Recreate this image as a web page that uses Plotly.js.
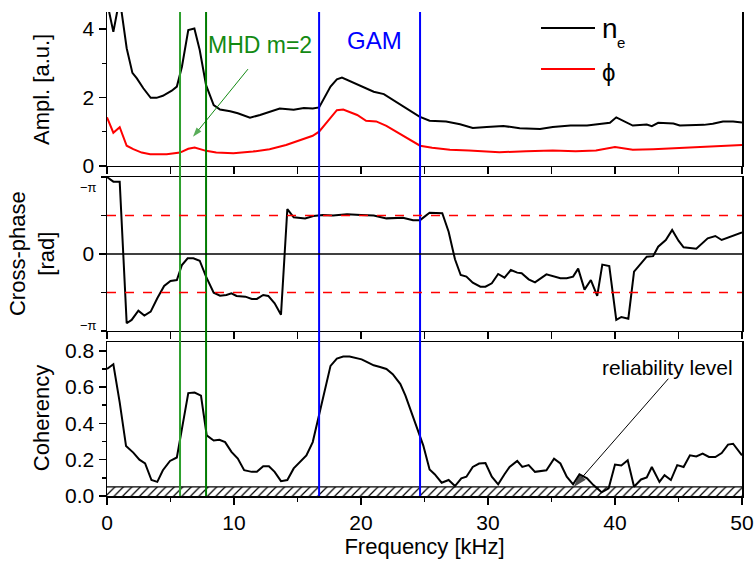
<!DOCTYPE html>
<html>
<head>
<meta charset="utf-8">
<script src="https://cdn.plot.ly/plotly-3.0.1.min.js"></script>
<style>
html,body{margin:0;padding:0;background:#fff;}
#chart{width:756px;height:562px;}
</style>
</head>
<body>
<div id="chart"></div>
<script>
// ---------- data ----------
// Top panel: amplitude spectra
const freqNe = [0,0.5,1.0,1.55,2.0,2.35,2.86,3.44,3.9,4.4,5.1,5.5,5.9,6.4,6.88,7.3,7.8,8.4,8.9,9.7,10.3,11.26,12.05,12.8,13.6,14.7,15.5,16.2,16.7,17.6,18.1,18.5,19.4,20.2,21.0,21.8,22.5,23.6,24.6,25.4,26.7,27.8,28.8,29.9,31.2,32.5,34.1,35.1,36.5,37.8,38.8,39.6,40.1,40.7,41.4,42.5,42.9,43.4,44.6,45.1,47.0,47.7,48.5,49.3,50];
const ampNe  = [4.8,3.92,4.9,3.44,2.72,2.56,2.27,1.99,1.99,2.05,2.2,2.32,2.9,3.97,4.02,3.39,2.36,1.78,1.65,1.6,1.54,1.41,1.49,1.59,1.68,1.64,1.69,1.68,1.71,2.32,2.53,2.58,2.43,2.29,2.17,2.1,1.93,1.68,1.44,1.32,1.30,1.22,1.11,1.14,1.17,1.10,1.08,1.14,1.18,1.18,1.22,1.26,1.42,1.32,1.18,1.21,1.16,1.26,1.24,1.18,1.20,1.23,1.30,1.30,1.27];
const freqPhi = [0,0.5,1.0,1.55,2.07,2.73,3.4,4.7,5.75,6.4,6.9,7.8,8.6,9.95,11.5,12.8,14.1,15.2,16.2,16.7,17.6,18.1,18.6,19.7,20.4,21.2,22.0,23.1,24.1,24.65,25.6,27.0,28.5,30.9,33.0,35.1,36.9,38.5,40.0,41.4,43.0,45.1,47.0,48.8,50];
const ampPhi  = [1.42,0.97,1.13,0.59,0.49,0.39,0.34,0.34,0.39,0.5,0.54,0.44,0.39,0.37,0.42,0.49,0.61,0.76,0.88,1.0,1.39,1.63,1.65,1.49,1.32,1.30,1.17,0.92,0.71,0.59,0.53,0.47,0.45,0.40,0.43,0.45,0.43,0.45,0.55,0.47,0.49,0.52,0.56,0.59,0.61];

// Middle panel: cross-phase (in units of pi)
const freqPhase = [0,0.5,1.0,1.55,1.94,2.47,2.94,3.44,3.96,4.5,5.0,5.5,5.9,6.35,6.8,7.3,7.8,8.4,8.9,9.4,9.8,10.2,10.9,11.4,11.8,12.3,12.7,13.2,13.7,14.2,14.7,15.6,16.25,17.0,17.8,18.9,20.0,21.0,22.0,23.3,24.1,24.65,25.4,25.96,26.4,26.9,27.4,27.85,28.3,28.8,29.4,29.8,30.3,30.8,31.3,31.8,32.3,32.65,33.2,33.7,34.6,35.7,36.2,36.7,37.1,37.6,38.1,38.6,39.0,39.55,40.1,40.5,41.05,41.5,42.05,42.5,43.0,43.4,44.0,44.5,45.0,45.4,46.4,47.3,47.9,48.4,50];
const crossPhasePi = [1.0,0.94,0.94,-0.90,-0.857,-0.736,-0.80,-0.749,-0.576,-0.416,-0.35,-0.338,-0.143,-0.056,-0.056,-0.087,-0.294,-0.502,-0.541,-0.532,-0.51,-0.545,-0.554,-0.584,-0.584,-0.532,-0.545,-0.64,-0.79,0.584,0.476,0.463,0.494,0.506,0.50,0.515,0.506,0.50,0.463,0.47,0.44,0.44,0.536,0.536,0.53,0.29,-0.069,-0.273,-0.294,-0.372,-0.424,-0.424,-0.381,-0.26,-0.307,-0.208,-0.242,-0.25,-0.329,-0.368,-0.264,-0.316,-0.316,-0.294,-0.19,-0.463,-0.338,-0.545,-0.138,-0.156,-0.857,-0.818,-0.84,-0.23,-0.121,-0.035,-0.028,0.095,0.182,0.312,0.173,0.087,0.069,0.203,0.234,0.182,0.281];
const phaseRefLevels = [0.5, -0.5];

// Bottom panel: coherency
const freqCoh = [0,0.5,1.0,1.5,2.07,2.55,3.0,3.5,3.96,4.4,4.96,5.5,5.9,6.4,6.9,7.4,7.85,8.4,8.85,9.3,9.8,10.3,10.8,11.4,11.8,12.3,12.75,13.2,13.7,14.2,14.7,15.2,15.7,16.2,16.7,17.2,17.6,18.1,18.6,19.1,19.7,20.05,20.45,21.0,21.5,22.0,22.5,23.1,23.5,24.0,24.5,24.9,25.4,25.8,26.35,26.9,27.4,27.9,28.3,28.8,29.3,29.8,30.3,30.8,31.3,31.7,32.3,32.7,33.2,33.7,34.6,35.2,35.7,36.2,36.7,37.2,37.8,38.3,38.95,39.5,40.0,40.5,41.0,41.5,42.05,42.5,42.9,43.5,43.9,44.4,44.9,45.4,45.9,46.4,46.9,47.4,47.9,48.4,48.9,49.3,50];
const coherency = [0.70,0.726,0.516,0.275,0.239,0.20,0.18,0.088,0.078,0.142,0.193,0.212,0.37,0.567,0.57,0.553,0.334,0.306,0.31,0.297,0.243,0.206,0.142,0.133,0.133,0.164,0.164,0.133,0.082,0.088,0.152,0.188,0.224,0.297,0.452,0.607,0.717,0.757,0.768,0.768,0.757,0.753,0.739,0.72,0.711,0.70,0.671,0.617,0.553,0.452,0.352,0.279,0.146,0.12,0.073,0.088,0.055,0.097,0.106,0.16,0.179,0.182,0.106,0.064,0.12,0.16,0.193,0.16,0.17,0.133,0.142,0.206,0.179,0.106,0.064,0.12,0.097,0.06,0.02,0.042,0.173,0.168,0.197,0.051,0.091,0.102,0.16,0.078,0.115,0.088,0.17,0.16,0.224,0.218,0.234,0.215,0.215,0.237,0.283,0.288,0.224];
const reliabilityX = [0, 50];
const reliabilityY = [0.05, 0.05];

// Frequency bands (kHz)
const mhdBand = [5.75, 7.8];
const gamBand = [16.7, 24.65];

// Annotation arrows: [tail, head] in data units
const mhdArrowX = [11.1, 6.77];
const mhdArrowY = [2.83, 0.85];
const relArrowX = [44.2, 36.75];
const relArrowY = [0.646, 0.05];

// Labels
const legendMain = ['n', 'ϕ'];
const legendSub = 'e';
const phaseTickVals = [0];
const phaseTickText = ['0'];
const phaseMinorVals = [-1, -0.5, 0.5, 1];
const phaseEdgeLabel = '−π';

// ---------- chart ----------
const FONT = 'Liberation Sans, Arial, Helvetica, sans-serif';
const AX = {
  showline: true, linecolor: '#000', linewidth: 1.5,
  ticks: 'outside', ticklen: 7, tickwidth: 1.5, tickcolor: '#000',
  showgrid: false, zeroline: false,
  tickfont: {family: FONT, size: 21, color: '#000'}
};

const traces = [
  {x: freqNe, y: ampNe, xaxis: 'x', yaxis: 'y', mode: 'lines', line: {color: '#000', width: 2}, showlegend: false},
  {x: freqPhi, y: ampPhi, xaxis: 'x', yaxis: 'y', mode: 'lines', line: {color: '#ff0000', width: 2}, showlegend: false},
  {x: freqPhase, y: crossPhasePi, xaxis: 'x2', yaxis: 'y2', mode: 'lines', line: {color: '#000', width: 2}, showlegend: false},
  {x: reliabilityX, y: reliabilityY, xaxis: 'x3', yaxis: 'y3', mode: 'lines', fill: 'tozeroy',
   fillcolor: 'rgba(0,0,0,0)',
   fillpattern: {shape: '/', fgcolor: '#000', bgcolor: '#fff', size: 6, solidity: 0.2},
   line: {color: '#000', width: 1.2}, showlegend: false},
  {x: freqCoh, y: coherency, xaxis: 'x3', yaxis: 'y3', mode: 'lines', line: {color: '#000', width: 2}, showlegend: false},
  {x: mhdArrowX, y: mhdArrowY, xaxis: 'x', yaxis: 'y', mode: 'lines+markers', line: {color: '#138a13', width: 1},
   marker: {symbol: ['circle', 'arrow'], size: [0, 10], angleref: 'previous', color: '#138a13', line: {width: 0}},
   showlegend: false},
  {x: relArrowX, y: relArrowY, xaxis: 'x3', yaxis: 'y3', mode: 'lines+markers', line: {color: '#000', width: 1},
   marker: {symbol: ['circle', 'arrow'], size: [0, 14], angleref: 'previous', color: '#000', line: {width: 0}},
   showlegend: false}
];

const shapes = [];
// band lines spanning all panels
const bandColors = [['#2ea02e', '#007c00'], ['#0000ff', '#0000ff']];
[mhdBand, gamBand].forEach((b, i) => {
  b.forEach((f, j) => {
    shapes.push({type: 'line', xref: 'x', yref: 'paper', x0: f, x1: f, y0: 0, y1: 1,
      line: {color: bandColors[i][j], width: 2}});
  });
});
// cross-phase reference lines
shapes.push({type: 'line', xref: 'x2 domain', yref: 'y2', x0: 0, x1: 1, y0: 0, y1: 0, line: {color: '#000', width: 1.5}});
phaseRefLevels.forEach(v => shapes.push({type: 'line', xref: 'x2 domain', yref: 'y2', x0: 0, x1: 1, y0: v, y1: v,
  line: {color: 'rgb(255,0,0)', width: 1.5, dash: 'dash'}}));
// legend samples
shapes.push({type: 'line', xref: 'paper', yref: 'paper', x0: 0.6835, x1: 0.7685, y0: 0.967, y1: 0.967, line: {color: '#000', width: 2}});
shapes.push({type: 'line', xref: 'paper', yref: 'paper', x0: 0.6835, x1: 0.7685, y0: 0.882, y1: 0.882, line: {color: '#ff0000', width: 2}});

const annotations = [
  {xref: 'paper', yref: 'paper', x: 0.776, y: 0.966, xanchor: 'left', yanchor: 'middle', showarrow: false,
   text: legendMain[0], font: {family: FONT, size: 28, color: '#000'}},
  {xref: 'paper', yref: 'paper', x: 0.8, y: 0.936, xanchor: 'left', yanchor: 'middle', showarrow: false,
   text: legendSub, font: {family: FONT, size: 15, color: '#000'}},
  {xref: 'paper', yref: 'paper', x: 0.776, y: 0.874, xanchor: 'left', yanchor: 'middle', showarrow: false,
   text: legendMain[1], font: {family: FONT, size: 24, color: '#000'}},
  {xref: 'paper', yref: 'paper', x: 0.241, y: 0.932, xanchor: 'center', yanchor: 'middle', showarrow: false,
   text: 'MHD m=2', font: {family: FONT, size: 23, color: '#138a13'}},
  {xref: 'paper', yref: 'paper', x: 0.4205, y: 0.942, xanchor: 'center', yanchor: 'middle', showarrow: false,
   text: 'GAM', font: {family: FONT, size: 24, color: '#0000ff'}},
  {xref: 'paper', yref: 'paper', x: 0.8827, y: 0.2665, xanchor: 'center', yanchor: 'middle', showarrow: false,
   text: 'reliability level', font: {family: FONT, size: 21, color: '#000'}},
  // cross-phase edge labels
  {xref: 'paper', yref: 'y2', x: -0.012, y: 0.87, xanchor: 'right', yanchor: 'middle', showarrow: false,
   text: phaseEdgeLabel, font: {family: FONT, size: 13, color: '#000'}},
  {xref: 'paper', yref: 'y2', x: -0.012, y: -0.93, xanchor: 'right', yanchor: 'middle', showarrow: false,
   text: phaseEdgeLabel, font: {family: FONT, size: 13, color: '#000'}},
  // y-axis titles
  {xref: 'paper', yref: 'paper', x: -0.103, y: 0.84, textangle: -90, showarrow: false, xanchor: 'center', yanchor: 'middle',
   text: 'Ampl. [a.u.]', font: {family: FONT, size: 22, color: '#000'}},
  {xref: 'paper', yref: 'paper', x: -0.118, y: 0.5, textangle: -90, showarrow: false, xanchor: 'center', yanchor: 'middle',
   text: 'Cross-phase<br>[rad]', font: {family: FONT, size: 22, color: '#000'}},
  {xref: 'paper', yref: 'paper', x: -0.103, y: 0.16, textangle: -90, showarrow: false, xanchor: 'center', yanchor: 'middle',
   text: 'Coherency', font: {family: FONT, size: 22, color: '#000'}}
];

const layout = {
  width: 756, height: 562,
  margin: {l: 107, r: 14, t: 12, b: 66},
  paper_bgcolor: '#fff', plot_bgcolor: 'rgba(0,0,0,0)',
  showlegend: false,
  font: {family: FONT, color: '#000'},
  xaxis: Object.assign({}, AX, {anchor: 'y', range: [0, 50], dtick: 5, showticklabels: false, mirror: false}),
  xaxis2: Object.assign({}, AX, {anchor: 'y2', matches: 'x', range: [0, 50], dtick: 5, showticklabels: false, mirror: true}),
  xaxis3: Object.assign({}, AX, {anchor: 'y3', matches: 'x', range: [0, 50], dtick: 10, mirror: true,
    minor: {dtick: 5, ticks: 'outside', ticklen: 4, tickwidth: 1.5, tickcolor: '#000'},
    title: {text: 'Frequency [kHz]', font: {family: FONT, size: 22, color: '#000'}, standoff: 2}}),
  yaxis: Object.assign({}, AX, {anchor: 'x', domain: [0.682, 1], range: [0, 4.5], tickvals: [0, 2, 4], mirror: true,
    minor: {tickvals: [1, 3], ticks: 'outside', ticklen: 4, tickwidth: 1.5, tickcolor: '#000'}}),
  yaxis2: Object.assign({}, AX, {anchor: 'x2', domain: [0.341, 0.659], range: [-1, 1], tickvals: phaseTickVals,
    ticktext: phaseTickText, mirror: true,
    minor: {tickvals: phaseMinorVals, ticks: 'outside', ticklen: 5, tickwidth: 1.5, tickcolor: '#000'}}),
  yaxis3: Object.assign({}, AX, {anchor: 'x3', domain: [0, 0.318], range: [0, 0.848], dtick: 0.2, tickformat: '.1f', mirror: true,
    minor: {dtick: 0.1, ticks: 'outside', ticklen: 4, tickwidth: 1.5, tickcolor: '#000'}}),
  shapes: shapes,
  annotations: annotations
};

Plotly.newPlot('chart', traces, layout, {staticPlot: true, displayModeBar: false});
</script>
</body>
</html>
